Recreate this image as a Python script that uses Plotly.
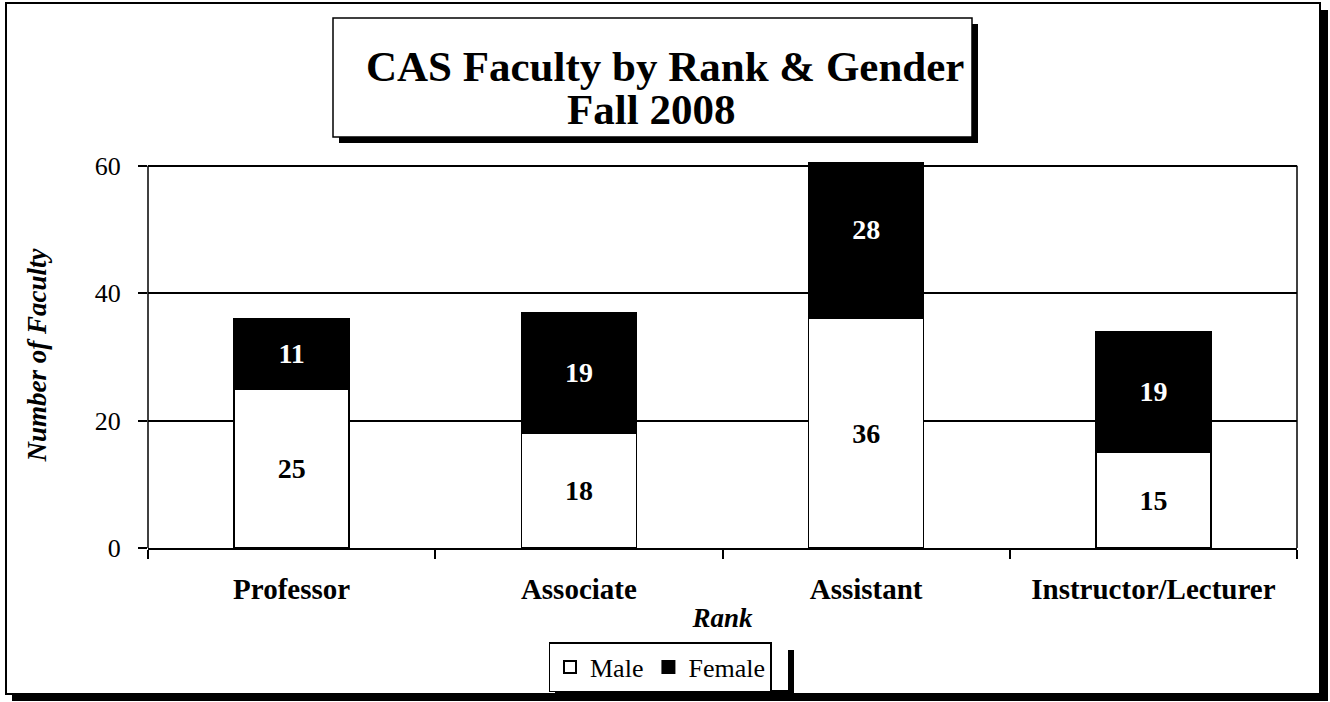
import plotly.graph_objects as go

categories = ["Professor", "Associate", "Assistant", "Instructor/Lecturer"]
male = [25, 18, 36, 15]
female = [11, 19, 28, 19]
y_ticks = [0, 20, 40, 60]

W, H = 1330, 702
L, R, T, B = 148, 1297, 162, 548
FONT = "Liberation Serif"


def px(x):
    return (x - L) / (R - L)


def py(y):
    return (B - y) / (B - T)


fig = go.Figure()
fig.add_trace(go.Bar(
    name="Male", x=categories, y=male, text=male,
    marker=dict(color="white", line=dict(color="black", width=1.5)),
    textposition="inside", insidetextanchor="middle",
    textfont=dict(family=FONT, size=28, color="black", weight="bold"),
))
fig.add_trace(go.Bar(
    name="Female", x=categories, y=female, text=female,
    marker=dict(color="black", line=dict(color="black", width=1.5)),
    textposition="inside", insidetextanchor="middle",
    textfont=dict(family=FONT, size=28, color="white", weight="bold"),
))

shapes = []


def rect(x0, y0, x1, y1, fill=None, lw=0):
    d = dict(type="rect", xref="paper", yref="paper",
             x0=px(x0), x1=px(x1), y0=py(y0), y1=py(y1), layer="above")
    if fill:
        d["fillcolor"] = fill
        d["line"] = dict(width=0)
    else:
        d["line"] = dict(color="black", width=lw)
    shapes.append(d)


# outer border + shadow
rect(6, 3, 1320, 694, lw=2)
rect(1320, 10, 1328, 701, fill="black")
rect(12, 694, 1328, 701, fill="black")
# title box + shadow
rect(333, 18, 972, 137, lw=1.5)
rect(972, 24, 978, 143, fill="black")
rect(339, 137, 978, 143, fill="black")
# legend shadow
rect(788, 650, 794, 696, fill="black")
rect(555, 690, 794, 696, fill="black")
# plot frame verticals
for xv in (L, R):
    shapes.append(dict(type="line", xref="paper", yref="y", x0=px(xv), x1=px(xv),
                       y0=0, y1=60, line=dict(color="black", width=1.5)))

fig.update_layout(
    width=W, height=H,
    margin=dict(l=L, r=W - R, t=T, b=H - B, autoexpand=False),
    paper_bgcolor="white", plot_bgcolor="rgba(0,0,0,0)",
    barmode="stack", bargap=0.6,
    font=dict(family=FONT, color="black"),
    shapes=shapes,
    showlegend=True,
    legend=dict(orientation="h", x=px(660), xanchor="center", y=py(642), yanchor="top",
                bgcolor="white", bordercolor="black", borderwidth=1.5,
                font=dict(family=FONT, size=26, color="black"),
                itemsizing="constant", traceorder="normal", itemwidth=30,
                tracegroupgap=0),
    annotations=[
        dict(text="<b>CAS Faculty by Rank & Gender</b>",
             xref="paper", yref="paper", x=px(665), y=py(66),
             xanchor="center", yanchor="middle", showarrow=False,
             font=dict(family=FONT, size=43, color="black")),
        dict(text="<b>Fall 2008</b>",
             xref="paper", yref="paper", x=px(651), y=py(110),
             xanchor="center", yanchor="middle", showarrow=False,
             font=dict(family=FONT, size=43, color="black")),
    ],
)
fig.update_xaxes(
    automargin=False,
    showline=True, linecolor="black", linewidth=2,
    ticks="outside", tickson="boundaries", ticklen=9, tickcolor="black", tickwidth=1.5,
    tickfont=dict(family=FONT, size=29, color="black", weight="bold"),
    ticklabelstandoff=14,
    title=dict(text="<b><i>Rank</i></b>", font=dict(family=FONT, size=27), standoff=4),
    showgrid=False,
)
fig.update_yaxes(
    automargin=False,
    range=[0, 60.6], tickvals=y_ticks, ticks="outside", ticklen=9, tickcolor="black",
    tickwidth=1.5, showline=False, zeroline=False,
    showgrid=True, gridcolor="black", gridwidth=1.5,
    tickfont=dict(family=FONT, size=26, color="black"),
    ticklabelstandoff=12,
    title=dict(text="<b><i>Number of Faculty</i></b>", font=dict(family=FONT, size=27), standoff=40),
)

fig.write_html("out.html", config={"displayModeBar": False},
               post_script="document.body.style.margin='0';document.body.style.overflow='hidden';")
